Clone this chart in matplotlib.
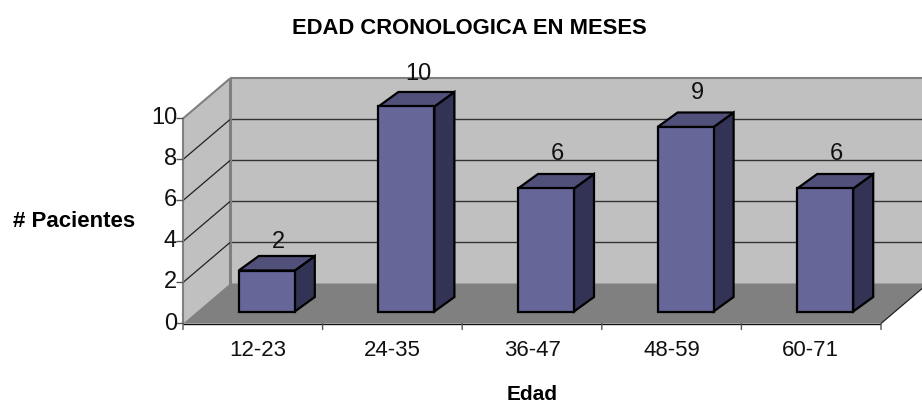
import matplotlib
matplotlib.use("Agg")
import matplotlib.pyplot as plt
from matplotlib.patches import Polygon

categorias = ["12-23", "24-35", "36-47", "48-59", "60-71"]
pacientes = [2, 10, 6, 9, 6]
ticks_y = [0, 2, 4, 6, 8, 10]
# gap between the top of each bar and its label, in pixels
separacion = [13.5, 18, 19.5, 19.5, 19.5]
# sideways nudge of the category labels, in pixels
corrimiento = [5, 0, 1, 0, -1]

plt.rcParams['font.family'] = ['Liberation Sans', 'DejaVu Sans']

W, H = 922, 405
PT = 72 / 100
fig = plt.figure(figsize=(W / 100, H / 100), dpi=100)
# front plane of the 3D box: x 183..881, y 323..118 in pixels
ax = fig.add_axes([183 / W, 1 - 323.5 / H, 698 / W, 205 / H])
ax.set_xlim(0, 5)
ax.set_ylim(0, 10)
ax.axis('off')

PX_X = 698 / 5
PX_Y = 20.5
# oblique depth of the box, in data units
DX = 47 / PX_X
DY = 40 / PX_Y


def proj(x, y, d):
    return (x + DX * d, y + DY * d)


def poly(puntos, color, ec='none', lw=0, z=1):
    ax.add_patch(Polygon(puntos, closed=True, facecolor=color, edgecolor=ec,
                         linewidth=lw, clip_on=False, zorder=z, joinstyle='miter'))


def linea(a, b, color, lw, z=3):
    ax.plot([a[0], b[0]], [a[1], b[1]], color=color, lw=lw, clip_on=False,
            zorder=z, solid_capstyle='butt')


def texto(s, xy, dx, dy, size, ha='center', z=30):
    ax.annotate(s, xy=xy, xytext=(dx * PT, dy * PT), textcoords='offset points',
                ha=ha, va='center', fontsize=size, color='#111111', zorder=z,
                annotation_clip=False)


def marca(xy, dx, dy):
    ax.annotate('', xy=xy, xytext=(dx * PT, dy * PT), textcoords='offset points',
                annotation_clip=False,
                arrowprops=dict(arrowstyle='-', color='#555555', lw=1, shrinkA=0, shrinkB=0))


# walls and floor
poly([proj(0, 0, 1), proj(5, 0, 1), proj(5, 10, 1), proj(0, 10, 1)], '#C0C0C0')
poly([proj(0, 0, 0), proj(0, 0, 1), proj(0, 10, 1), proj(0, 10, 0)], '#C0C0C0')
poly([proj(0, 0, 0), proj(5, 0, 0), proj(5, 0, 1), proj(0, 0, 1)], '#808080', z=2)

for v in ticks_y[1:-1]:
    linea(proj(0, v, 0), proj(0, v, 1), '#222222', 0.9)
    linea(proj(0, v, 1), proj(5, v, 1), '#333333', 1.0, z=1.5)

linea(proj(0, 10, 0), proj(0, 10, 1), '#808080', 1.5)
linea(proj(0, 0, 1), proj(0, 10, 1), '#808080', 2.2, z=1.6)
linea(proj(0, 10, 1), proj(5, 10, 1), '#808080', 1.5)
linea(proj(5, 0, 0), proj(5, 0, 1), '#222222', 0.9)

# axes
linea((0, 0), (0, 10), '#808080', 1.5)
linea((0, 0), (5, 0), '#111111', 1.0)
for v in ticks_y:
    marca((0, v), -6, 0)
    texto(str(v), (0, v), -6, 0, 17, ha='right')
for i in range(6):
    marca((i, 0), 0, -6)
for i, c in enumerate(categorias):
    texto(c, (i + 0.5, 0), corrimiento[i], -26.5, 16)

# bars
ancho = 56 / PX_X
frente_x, frente_y = 14 / PX_X, 12 / PX_Y
fondo_x, fondo_y = 20 / PX_X, 14.5 / PX_Y
for i, (v, sep) in enumerate(zip(pacientes, separacion)):
    x0 = i + 0.5 - ancho / 2 + frente_x
    x1 = x0 + ancho
    y0 = frente_y
    y1 = v + frente_y
    base = 10 + i
    poly([(x1, y0), (x1 + fondo_x, y0 + fondo_y), (x1 + fondo_x, y1 + fondo_y), (x1, y1)],
         '#333355', ec='black', lw=1.6, z=base)
    poly([(x0, y1), (x1, y1), (x1 + fondo_x, y1 + fondo_y), (x0 + fondo_x, y1 + fondo_y)],
         '#50507A', ec='black', lw=1.6, z=base)
    poly([(x0, y0), (x1, y0), (x1, y1), (x0, y1)],
         '#666699', ec='black', lw=1.6, z=base + 0.5)
    texto(str(v), ((x0 + x1) / 2, y1 + fondo_y), 11.5, sep, 17)

fig.text(469 / W, 1 - 28.5 / H, "EDAD CRONOLOGICA EN MESES", ha='center', va='center',
         fontsize=15.8, fontweight='bold', color='black')
fig.text(74.5 / W, 1 - 221.5 / H, "# Pacientes", ha='center', va='center',
         fontsize=16, fontweight='bold', color='black')
fig.text(532.5 / W, 1 - 394 / H, "Edad", ha='center', va='center',
         fontsize=15, fontweight='bold', color='black')

fig.savefig("out.png", dpi=100)
